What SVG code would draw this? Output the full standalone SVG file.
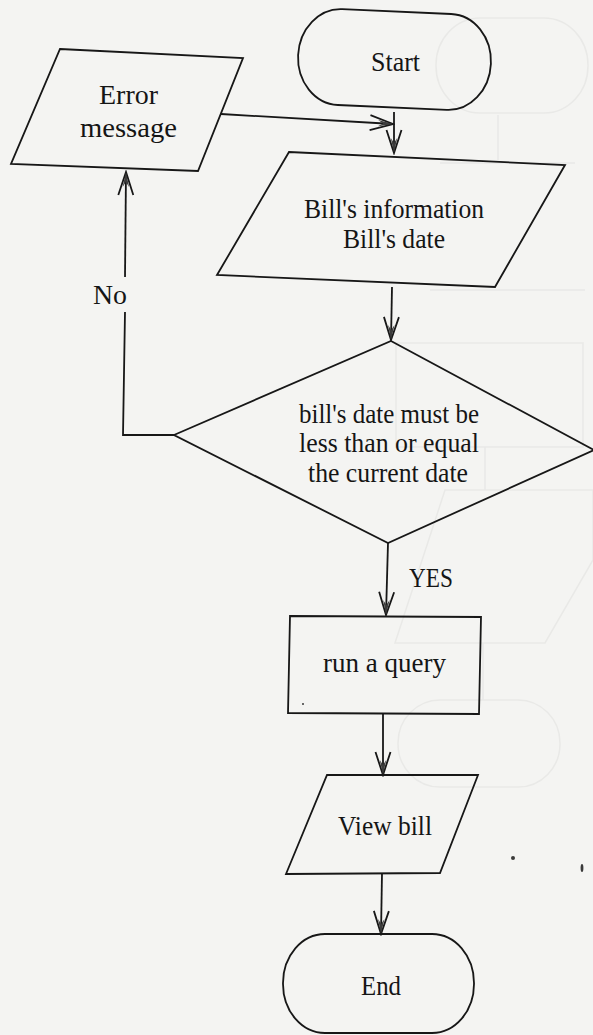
<svg xmlns="http://www.w3.org/2000/svg" width="593" height="1035" viewBox="0 0 593 1035">
  <style>
    .shape { fill: none; stroke: #171717; stroke-width: 1.8; stroke-linejoin: miter; }
    .conn { fill: none; stroke: #171717; stroke-width: 1.8; }
    .label { font-family: "Liberation Serif", "Times New Roman", serif; font-size: 27px; fill: #151515; text-anchor: middle; }
    .ghost { fill: none; stroke: #e9e9e7; stroke-width: 1.5; }
    .speck { fill: #3a3a3a; }
  </style>
  <defs>
    <!-- open V arrowhead with a dark inner spike -->
    <marker id="arrow" markerUnits="userSpaceOnUse" viewBox="-26 -10 28 20" markerWidth="28" markerHeight="20" refX="0" refY="0" orient="auto">
      <path d="M-23,-7.5 L0,0 L-23,7.5" fill="none" stroke="#171717" stroke-width="1.8"/>
      <path d="M0,0 L-15,-3.2 L-10,0 L-15,3.2 Z" fill="#3c3c3c"/>
    </marker>
  </defs>

  <!-- paper -->
  <rect x="0" y="0" width="593" height="1035" fill="#f4f4f2"/>

  <!-- faint print from the facing page -->
  <g id="reverse-side">
    <rect class="ghost" x="436" y="18" width="152" height="95" rx="44" ry="47"/>
    <line class="ghost" x1="498" y1="115" x2="498" y2="160"/>
    <line class="ghost" x1="440" y1="163" x2="575" y2="163"/>
    <line class="ghost" x1="430" y1="290" x2="585" y2="290"/>
    <rect class="ghost" x="396" y="343" width="187" height="104"/>
    <line class="ghost" x1="485" y1="447" x2="485" y2="490"/>
    <polygon class="ghost" points="445,490 593,490 593,560 545,643 395,643"/>
    <line class="ghost" x1="483" y1="643" x2="483" y2="700"/>
    <rect class="ghost" x="398" y="700" width="162" height="87" rx="42" ry="43"/>
  </g>

  <!-- connectors -->
  <g id="connectors">
    <path class="conn" d="M394,112 L394,153" marker-end="url(#arrow)"/>
    <path class="conn" d="M221,114 L393,124" marker-end="url(#arrow)"/>
    <path class="conn" d="M392,287 L391,340" marker-end="url(#arrow)"/>
    <path class="conn" d="M388,543 L386,615" marker-end="url(#arrow)"/>
    <path class="conn" d="M383,714 L383,775" marker-end="url(#arrow)"/>
    <path class="conn" d="M382,873 L381,934" marker-end="url(#arrow)"/>
    <path class="conn" d="M174,435 L123,435 L125,312"/>
    <path class="conn" d="M125,277 L126,172" marker-end="url(#arrow)"/>
    <text class="label" x="110" y="304" textLength="34" lengthAdjust="spacingAndGlyphs">No</text>
    <text class="label" x="431" y="587" textLength="44" lengthAdjust="spacingAndGlyphs">YES</text>
  </g>

  <g id="start">
    <rect class="shape" x="-96.5" y="-48" width="193" height="96" rx="42" ry="48" transform="translate(394.5,59.5) rotate(2.6)"/>
    <text class="label" x="395.5" y="71" textLength="49" lengthAdjust="spacingAndGlyphs">Start</text>
  </g>

  <g id="error-message">
    <polygon class="shape" points="60,49 243,58 198,171 11,164"/>
    <text class="label" x="128.5" y="104" textLength="59" lengthAdjust="spacingAndGlyphs">Error</text>
    <text class="label" x="128.5" y="137" textLength="97" lengthAdjust="spacingAndGlyphs">message</text>
  </g>

  <g id="bill-input">
    <polygon class="shape" points="289,152 565,165 495,287 217,275"/>
    <text class="label" x="394" y="218" textLength="180" lengthAdjust="spacingAndGlyphs">Bill's information</text>
    <text class="label" x="394" y="248" textLength="102" lengthAdjust="spacingAndGlyphs">Bill's date</text>
  </g>

  <g id="date-check">
    <polygon class="shape" points="391,341 594,450 388,543 174,435"/>
    <text class="label" x="389" y="423" textLength="180" lengthAdjust="spacingAndGlyphs">bill's date must be</text>
    <text class="label" x="389" y="452" textLength="180" lengthAdjust="spacingAndGlyphs">less than or equal</text>
    <text class="label" x="388" y="482" textLength="160" lengthAdjust="spacingAndGlyphs">the current date</text>
  </g>

  <g id="run-query">
    <polygon class="shape" points="290,616 481,617 479,714 288,713"/>
    <text class="label" x="384.5" y="672" textLength="123" lengthAdjust="spacingAndGlyphs">run a query</text>
  </g>

  <g id="view-bill">
    <polygon class="shape" points="327,775 478,775 440,873 286,874"/>
    <text class="label" x="385" y="835" textLength="94" lengthAdjust="spacingAndGlyphs">View bill</text>
  </g>

  <g id="end">
    <rect class="shape" x="283" y="934" width="191" height="99" rx="42" ry="49"/>
    <text class="label" x="381" y="995" textLength="40" lengthAdjust="spacingAndGlyphs">End</text>
  </g>

  <!-- small ink marks on the sheet -->
  <g id="specks">
    <circle class="speck" cx="513" cy="858" r="2"/>
    <ellipse class="speck" cx="582" cy="868" rx="1.4" ry="4"/>
    <circle class="speck" cx="303" cy="704" r="1"/>
  </g>
</svg>
